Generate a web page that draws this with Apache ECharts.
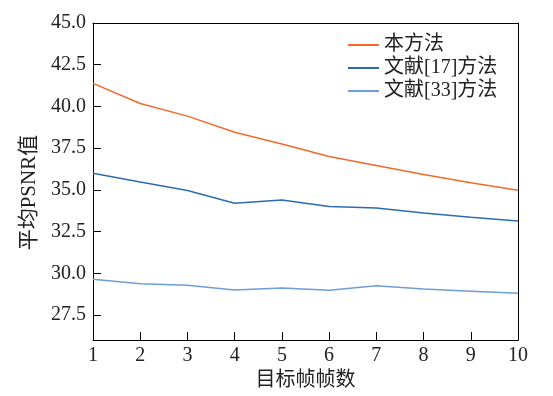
<!DOCTYPE html>
<html>
<head>
<meta charset="utf-8">
<script src="https://cdn.jsdelivr.net/npm/echarts@6/dist/echarts.min.js"></script>
<style>html,body{margin:0;padding:0;background:#fff;}#c{width:553px;height:396px;}</style>
</head>
<body>
<div id="c"></div>
<script>
var categories = [1, 2, 3, 4, 5, 6, 7, 8, 9, 10];
var seriesNames = ['本方法', '文献[17]方法', '文献[33]方法'];
var oursValues = [41.38, 40.18, 39.42, 38.45, 37.75, 37.0, 36.46, 35.92, 35.43, 34.98];
var ref17Values = [36.0, 35.47, 34.96, 34.2, 34.4, 34.0, 33.92, 33.62, 33.36, 33.13];
var ref33Values = [29.64, 29.38, 29.28, 29.0, 29.12, 28.98, 29.25, 29.06, 28.93, 28.8];
var yTicks = [27.5, 30.0, 32.5, 35.0, 37.5, 40.0, 42.5, 45.0];
var colors = ['#F26A2B', '#2C6CAE', '#6D9FD6'];

var FONT = "'Liberation Serif', 'Noto Sans CJK SC', serif";
function pairs(vals) { return categories.map(function (c, i) { return [c, vals[i]]; }); }

var chart = echarts.init(document.getElementById('c'));
chart.setOption({
  animation: false,
  backgroundColor: '#fff',
  textStyle: { fontFamily: FONT },
  grid: { left: 93, right: 35, top: 23, bottom: 55 },
  legend: {
    orient: 'vertical',
    left: 343,
    top: 30,
    itemWidth: 31,
    itemHeight: 2,
    itemGap: 3,
    icon: 'rect',
    textStyle: { fontFamily: FONT, fontSize: 20, color: '#222' },
    data: seriesNames
  },
  xAxis: [{
    type: 'value',
    min: 1, max: 10, interval: 1,
    name: '目标帧帧数',
    nameLocation: 'middle',
    nameGap: 28,
    nameTextStyle: { fontFamily: FONT, fontSize: 20, color: '#222' },
    axisLine: { lineStyle: { color: '#000', width: 1 } },
    axisTick: { inside: true, length: 8, lineStyle: { color: '#000' } },
    axisLabel: { fontFamily: FONT, fontSize: 20, color: '#222', margin: 6 },
    splitLine: { show: false }
  }, {
    type: 'value', position: 'top', min: 1, max: 10,
    axisLine: { show: true, lineStyle: { color: '#000', width: 1 } },
    axisTick: { show: false }, axisLabel: { show: false }, splitLine: { show: false }
  }],
  yAxis: [{
    type: 'value',
    min: 26, max: 45,
    name: '平均PSNR值',
    nameLocation: 'middle',
    nameGap: 46,
    nameTextStyle: { fontFamily: FONT, fontSize: 21, color: '#222', padding: [0, 22, 0, 0] },
    axisLine: { show: true, lineStyle: { color: '#000', width: 1 } },
    axisTick: { show: true, inside: true, length: 8, lineStyle: { color: '#000' }, customValues: yTicks },
    axisLabel: { fontFamily: FONT, fontSize: 20, color: '#222', margin: 7, customValues: yTicks,
      formatter: function (v) { return v.toFixed(1); } },
    splitLine: { show: false }
  }, {
    type: 'value', position: 'right', min: 26, max: 45,
    axisLine: { show: true, lineStyle: { color: '#000', width: 1 } },
    axisTick: { show: false }, axisLabel: { show: false }, splitLine: { show: false }
  }],
  series: [
    { name: seriesNames[0], type: 'line', data: pairs(oursValues), showSymbol: false, symbol: 'none',
      lineStyle: { color: colors[0], width: 1.5 }, itemStyle: { color: colors[0] } },
    { name: seriesNames[1], type: 'line', data: pairs(ref17Values), showSymbol: false, symbol: 'none',
      lineStyle: { color: colors[1], width: 1.5 }, itemStyle: { color: colors[1] } },
    { name: seriesNames[2], type: 'line', data: pairs(ref33Values), showSymbol: false, symbol: 'none',
      lineStyle: { color: colors[2], width: 1.5 }, itemStyle: { color: colors[2] } }
  ]
});
</script>
</body>
</html>
